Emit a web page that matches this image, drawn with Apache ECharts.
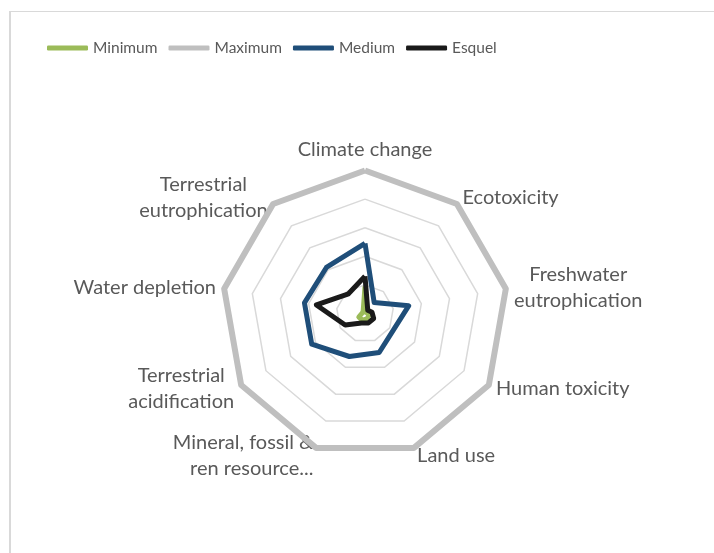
<!DOCTYPE html>
<html><head><meta charset="utf-8">
<script src="https://cdn.jsdelivr.net/npm/echarts@6/dist/echarts.min.js"></script>
<style>
html,body{margin:0;padding:0;background:#fff;}
#c{width:714px;height:553px;position:absolute;left:0;top:0;}
#frame{position:absolute;left:9px;top:11px;width:720px;height:560px;border-left:2px solid #d9d9d9;border-top:1px solid #d9d9d9;pointer-events:none;}
</style>
</head><body><div id="c"></div><div id="frame"></div>
<script>
const categories = ['Climate change','Ecotoxicity','Freshwater\neutrophication','Human toxicity','Land use','Mineral, fossil &\nren resource...','Terrestrial\nacidification','Water depletion','Terrestrial\neutrophication'];
const seriesNames = ['Minimum','Maximum','Medium','Esquel'];
const minimum = [0.19,0.01,0.02,0.03,0.04,0.05,0.05,0.02,0.02];
const maximum = [1,1,1,1,1,1,1,1,1];
const medium = [0.49,0.10,0.31,0.23,0.29,0.32,0.43,0.43,0.42];
const esquel = [0.26,0.03,0.05,0.07,0.07,0.07,0.16,0.345,0.18];
const values = [minimum, maximum, medium, esquel];
const colors = ['#9bbb59','#bfbfbf','#1f4e79','#1a1a1a'];
const widths = [5,6,5,5];

// ECharts radar places indicators anticlockwise; reverse so they run clockwise from the top
const order = [0,8,7,6,5,4,3,2,1];

const fontFamily = 'Lato';
const axisFont = 20;
const ctx = document.createElement('canvas').getContext('2d');
ctx.font = axisFont + 'px ' + fontFamily;
const rich = {};
categories.forEach((c, i) => {
  const w = Math.max(...c.split('\n').map(s => ctx.measureText(s).width));
  rich['l' + i] = {width: Math.ceil(w), align: i === 5 ? 'right' : 'center', fontSize: axisFont, fontFamily: fontFamily, color: '#595959', lineHeight: 26};
});

const chart = echarts.init(document.getElementById('c'), null, {renderer: 'canvas'});
chart.setOption({
  animation: false,
  backgroundColor: 'transparent',
  legend: {
    left: 42, top: 35, itemWidth: 41, itemHeight: 5, itemGap: 11, icon: 'roundRect',
    textStyle: {fontFamily: fontFamily, fontSize: 15.5, color: '#595959'},
    data: seriesNames
  },
  radar: {
    center: [365, 313.5], radius: 143, startAngle: 90,
    splitNumber: 5, shape: 'polygon', nameGap: 8,
    indicator: order.map(i => ({name: categories[i], min: 0, max: 1})),
    axisName: {
      color: '#595959', fontFamily: fontFamily, fontSize: axisFont, lineHeight: 26,
      formatter: (name) => { const i = categories.indexOf(name); return name.split('\n').map(s => '{l' + i + '|' + s + '}').join('\n'); },
      rich: rich
    },
    splitLine: {lineStyle: {color: '#d9d9d9', width: 1.5}},
    splitArea: {show: false},
    axisLine: {show: false},
    axisTick: {show: false},
    axisLabel: {show: false}
  },
  series: [{
    type: 'radar', symbol: 'none',
    data: seriesNames.map((n, k) => ({
      name: n, value: order.map(i => values[k][i]),
      itemStyle: {color: colors[k]},
      lineStyle: {color: colors[k], width: widths[k], join: 'round'}
    }))
  }]
});
</script></body></html>
